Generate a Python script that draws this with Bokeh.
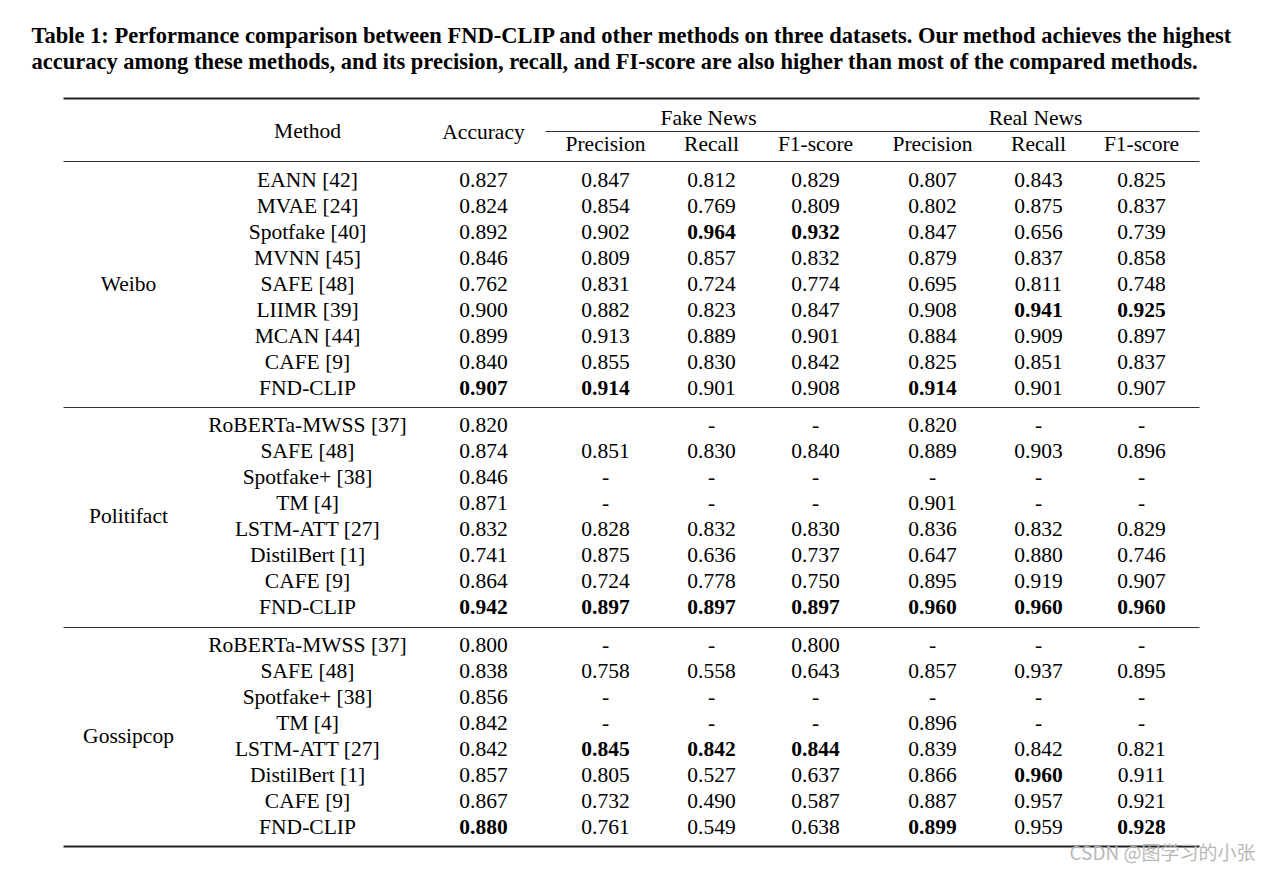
from bokeh.plotting import figure
from bokeh.models import ColumnDataSource, Range1d
from bokeh.core.properties import value
from bokeh.embed import file_html
from bokeh.resources import INLINE

# ---------------- data ----------------
caption_lines = [
    "Table 1: Performance comparison between FND-CLIP and other methods on three datasets. Our method achieves the highest",
    "accuracy among these methods, and its precision, recall, and FI-score are also higher than most of the compared methods.",
]
columns = ["Accuracy", "Precision", "Recall", "F1-score", "Precision", "Recall", "F1-score"]
groups = ["Fake News", "Real News"]
datasets = ["Weibo", "Politifact", "Gossipcop"]

weibo_methods = ["EANN [42]", "MVAE [24]", "Spotfake [40]", "MVNN [45]", "SAFE [48]",
                 "LIIMR [39]", "MCAN [44]", "CAFE [9]", "FND-CLIP"]
weibo_acc = ["0.827", "0.824", "0.892", "0.846", "0.762", "0.900", "0.899", "0.840", "0.907"]
weibo_fake_p = ["0.847", "0.854", "0.902", "0.809", "0.831", "0.882", "0.913", "0.855", "0.914"]
weibo_fake_r = ["0.812", "0.769", "0.964", "0.857", "0.724", "0.823", "0.889", "0.830", "0.901"]
weibo_fake_f1 = ["0.829", "0.809", "0.932", "0.832", "0.774", "0.847", "0.901", "0.842", "0.908"]
weibo_real_p = ["0.807", "0.802", "0.847", "0.879", "0.695", "0.908", "0.884", "0.825", "0.914"]
weibo_real_r = ["0.843", "0.875", "0.656", "0.837", "0.811", "0.941", "0.909", "0.851", "0.901"]
weibo_real_f1 = ["0.825", "0.837", "0.739", "0.858", "0.748", "0.925", "0.897", "0.837", "0.907"]
weibo_bold = [(8, 0), (8, 1), (2, 2), (2, 3), (8, 4), (5, 5), (5, 6)]

politi_methods = ["RoBERTa-MWSS [37]", "SAFE [48]", "Spotfake+ [38]", "TM [4]",
                  "LSTM-ATT [27]", "DistilBert [1]", "CAFE [9]", "FND-CLIP"]
politi_acc = ["0.820", "0.874", "0.846", "0.871", "0.832", "0.741", "0.864", "0.942"]
politi_fake_p = ["", "0.851", "-", "-", "0.828", "0.875", "0.724", "0.897"]
politi_fake_r = ["-", "0.830", "-", "-", "0.832", "0.636", "0.778", "0.897"]
politi_fake_f1 = ["-", "0.840", "-", "-", "0.830", "0.737", "0.750", "0.897"]
politi_real_p = ["0.820", "0.889", "-", "0.901", "0.836", "0.647", "0.895", "0.960"]
politi_real_r = ["-", "0.903", "-", "-", "0.832", "0.880", "0.919", "0.960"]
politi_real_f1 = ["-", "0.896", "-", "-", "0.829", "0.746", "0.907", "0.960"]
politi_bold = [(7, 0), (7, 1), (7, 2), (7, 3), (7, 4), (7, 5), (7, 6)]

gossip_methods = ["RoBERTa-MWSS [37]", "SAFE [48]", "Spotfake+ [38]", "TM [4]",
                  "LSTM-ATT [27]", "DistilBert [1]", "CAFE [9]", "FND-CLIP"]
gossip_acc = ["0.800", "0.838", "0.856", "0.842", "0.842", "0.857", "0.867", "0.880"]
gossip_fake_p = ["-", "0.758", "-", "-", "0.845", "0.805", "0.732", "0.761"]
gossip_fake_r = ["-", "0.558", "-", "-", "0.842", "0.527", "0.490", "0.549"]
gossip_fake_f1 = ["0.800", "0.643", "-", "-", "0.844", "0.637", "0.587", "0.638"]
gossip_real_p = ["-", "0.857", "-", "0.896", "0.839", "0.866", "0.887", "0.899"]
gossip_real_r = ["-", "0.937", "-", "-", "0.842", "0.960", "0.957", "0.959"]
gossip_real_f1 = ["-", "0.895", "-", "-", "0.821", "0.911", "0.921", "0.928"]
gossip_bold = [(7, 0), (4, 1), (4, 2), (4, 3), (7, 4), (5, 5), (7, 6)]

watermark = "CSDN @图学习的小张"

# ---------------- layout ----------------
FONT = "Liberation Serif"
FS = "21.5px"
X_DATASET = 128
X_METHOD = 307
X_COLS = [483, 605, 711, 815, 932, 1038, 1141]
X_GROUPS = [708, 1035]
X_LEFT, X_RIGHT = 63, 1199
ROW_H = 26
BLOCK_TOPS = [180, 425, 645]

tables = [
    (weibo_methods, [weibo_acc, weibo_fake_p, weibo_fake_r, weibo_fake_f1, weibo_real_p, weibo_real_r, weibo_real_f1], weibo_bold),
    (politi_methods, [politi_acc, politi_fake_p, politi_fake_r, politi_fake_f1, politi_real_p, politi_real_r, politi_real_f1], politi_bold),
    (gossip_methods, [gossip_acc, gossip_fake_p, gossip_fake_r, gossip_fake_f1, gossip_real_p, gossip_real_r, gossip_real_f1], gossip_bold),
]

norm = dict(x=[], y=[], t=[])
bold = dict(x=[], y=[], t=[])
DY = -0.5
for (methods, cols, bset), top, dname in zip(tables, BLOCK_TOPS, datasets):
    n = len(methods)
    ys = [top + ROW_H * i for i in range(n)]
    norm["x"].append(X_DATASET); norm["y"].append((ys[0] + ys[-1]) / 2 + DY); norm["t"].append(dname)
    for i, m in enumerate(methods):
        norm["x"].append(X_METHOD); norm["y"].append(ys[i] + DY); norm["t"].append(m)
    for j, col in enumerate(cols):
        for i, v in enumerate(col):
            tgt = bold if (i, j) in bset else norm
            tgt["x"].append(X_COLS[j]); tgt["y"].append(ys[i] + DY); tgt["t"].append(v)

# headers
hdr = dict(x=[X_METHOD, X_COLS[0]] + X_GROUPS + X_COLS[1:],
           y=[130, 131] + [117, 117] + [143] * 6,
           t=["Method", columns[0]] + groups + columns[1:])

W, H = 1268, 868
p = figure(width=W, height=H, output_backend="svg", toolbar_location=None,
           x_range=Range1d(0, W), y_range=Range1d(H, 0), min_border=0)
p.axis.visible = False
p.xgrid.visible = False
p.ygrid.visible = False
p.outline_line_color = None
p.background_fill_color = "white"
p.border_fill_color = "white"

common = dict(text_align="center", text_baseline="middle", text_font=value(FONT),
              text_font_size=value(FS), text_color="#000000")
p.text(x="x", y="y", text="t", source=ColumnDataSource(norm), **common)
p.text(x="x", y="y", text="t", source=ColumnDataSource(hdr), **common)
p.text(x="x", y="y", text="t", source=ColumnDataSource(bold), text_font_style="bold", **common)

# caption
p.text(x=[31, 31], y=[35, 61], text=caption_lines, text_align="left", text_baseline="alphabetic",
       text_font=value(FONT), text_font_size=value("22.5px"), text_font_style="bold", text_color="#000000")

# rules
p.segment(x0=[X_LEFT, X_LEFT], y0=[98, 846], x1=[X_RIGHT, X_RIGHT], y1=[98, 846],
          line_color="#222222", line_width=2)
p.segment(x0=[X_LEFT, X_LEFT, X_LEFT, 545], y0=[161, 407, 627, 131],
          x1=[X_RIGHT] * 4, y1=[161, 407, 627, 131], line_color="#333333", line_width=1.2)

# watermark
p.text(x=[1069], y=[851], text=[watermark], text_align="left", text_baseline="middle",
       text_font=value("Noto Sans CJK SC"), text_font_size=value("19px"), text_color="#b8b8b8")

open("out.html", "w").write(file_html(p, INLINE))
